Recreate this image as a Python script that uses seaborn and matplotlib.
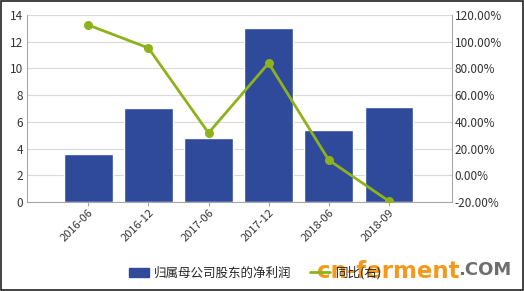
import matplotlib
matplotlib.use("Agg")
import matplotlib.pyplot as plt
import seaborn as sns
import pandas as pd
from matplotlib.patches import Patch, Rectangle
from matplotlib.lines import Line2D
from matplotlib.ticker import FuncFormatter, MultipleLocator

categories = ["2016-06", "2016-12", "2017-06", "2017-12", "2018-06", "2018-09"]
net_profit = [3.6, 7.05, 4.8, 13.0, 5.4, 7.1]
yoy_pct = [112.5, 95.3, 31.7, 84.0, 11.4, -19.3]
bar_label = "归属母公司股东的净利润"
line_label = "同比(右)"

sns.set_theme(style="white")
plt.rcParams['font.family'] = ['Noto Sans CJK SC', 'DejaVu Sans']

bar_color = "#2F4A9A"
line_color = "#8DB21C"
grid_color = "#D9D9D9"
spine_color = "#A6A6A6"

fig = plt.figure(figsize=(5.24, 2.91), dpi=100)
ax = fig.add_axes([27/524, 1 - 202/291, (452-27)/524, (202-15)/291])

df = pd.DataFrame({"cat": categories, "val": net_profit})
sns.barplot(data=df, x="cat", y="val", color=bar_color, width=0.81,
            saturation=1, ax=ax, zorder=2)
ax.set_xlim(-1.02, 6.05)
ax.set_ylim(0, 14)
ax.yaxis.set_major_locator(MultipleLocator(2))
ax.set_xlabel("")
ax.set_ylabel("")
ax.grid(axis="y", color=grid_color, linewidth=0.8, zorder=0)
ax.set_axisbelow(True)
for s in ["top", "right"]:
    ax.spines[s].set_visible(False)
for s in ["left", "bottom"]:
    ax.spines[s].set_color(spine_color)
    ax.spines[s].set_linewidth(0.8)
ax.tick_params(axis="y", labelsize=8.5, length=0, pad=3, colors="#333333")
ax.tick_params(axis="x", labelsize=8, length=3, width=0.8, color=spine_color,
               pad=1, colors="#333333", direction="out", bottom=True)
for lbl in ax.get_xticklabels():
    lbl.set_rotation(45)
    lbl.set_ha("right")
    lbl.set_rotation_mode("anchor")
    lbl.set_color("#333333")

ax2 = ax.twinx()
ldf = pd.DataFrame({"pos": list(range(len(categories))), "pct": yoy_pct})
sns.lineplot(data=ldf, x="pos", y="pct", color=line_color, linewidth=2,
             marker="o", markersize=6.5, markeredgewidth=0, ax=ax2, zorder=3)
ax2.set_ylim(-20, 120)
ax2.yaxis.set_major_locator(MultipleLocator(20))
ax2.yaxis.set_major_formatter(FuncFormatter(lambda v, p: f"{v:.2f}%"))
ax2.set_xlabel("")
ax2.set_ylabel("")
for s in ["top", "left", "bottom"]:
    ax2.spines[s].set_visible(False)
ax2.spines["right"].set_color(spine_color)
ax2.spines["right"].set_linewidth(0.8)
ax2.tick_params(axis="y", labelsize=8.5, length=0, pad=2, colors="#333333")
ax2.set_xlim(ax.get_xlim())

handles = [Patch(facecolor=bar_color, edgecolor=bar_color, label=bar_label),
           Line2D([0], [0], color=line_color, linewidth=2, label=line_label)]
fig.legend(handles=handles, loc="center", bbox_to_anchor=(255/524, 1 - 273/291),
           ncol=2, frameon=False, fontsize=9, handlelength=1.6,
           handleheight=0.7, columnspacing=1.45, handletextpad=0.45)

fig.text(317/524, 1 - 271/291, "cn-ferment", color="#F39A1E", fontsize=16.5,
         fontweight="bold", va="center", ha="left", family="DejaVu Sans")
fig.text(458/524, 1 - 270/291, ".COM", color="#6E6E6E", fontsize=13,
         fontweight="bold", va="center", ha="left", family="DejaVu Sans")

fig.patches.append(Rectangle((0.001, 0.002), 0.997, 0.996, transform=fig.transFigure,
                             fill=False, edgecolor="#222222", linewidth=1.2))

fig.savefig("out.png", dpi=100)
